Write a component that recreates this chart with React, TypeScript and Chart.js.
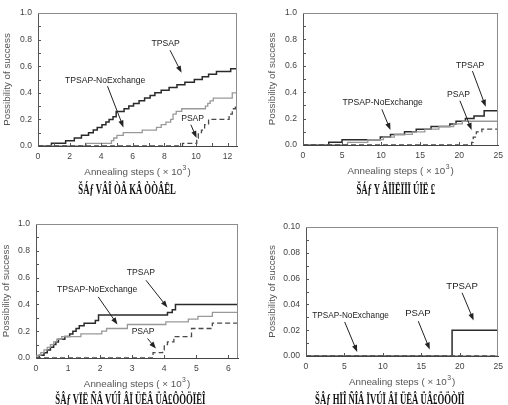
import React, { useEffect, useRef } from "react";
import { Chart, registerables } from "chart.js";
Chart.register(...registerables);

// ---------- Panel (a) ----------
const aTpsapX = [0, 0.85, 1.75, 2.3, 2.75, 3.2, 3.5, 3.75, 4.05, 4.3, 4.5, 4.75, 4.95, 5.45, 5.75, 6.05, 6.4, 6.75, 7.1, 7.4, 7.8, 8.3, 8.8, 9.3, 9.9, 10.4, 10.8, 11.3, 12.2, 12.6];
const aTpsapY = [0, 0.02, 0.04, 0.06, 0.08, 0.10, 0.12, 0.14, 0.16, 0.18, 0.20, 0.22, 0.26, 0.28, 0.30, 0.32, 0.34, 0.36, 0.38, 0.40, 0.42, 0.44, 0.46, 0.48, 0.50, 0.52, 0.54, 0.56, 0.58, 0.58];
const aNoExX = [0, 3.05, 4.65, 4.8, 5.0, 5.4, 6.6, 7.5, 7.8, 8.1, 8.4, 8.55, 8.75, 9.1, 10.6, 10.75, 10.9, 11.1, 12.3, 12.6];
const aNoExY = [0, 0.02, 0.04, 0.06, 0.08, 0.10, 0.12, 0.14, 0.16, 0.18, 0.20, 0.24, 0.26, 0.28, 0.30, 0.32, 0.34, 0.36, 0.40, 0.40];
const aPsapX = [0, 9.15, 10.05, 10.15, 10.35, 10.55, 10.8, 12.1, 12.3, 12.5, 12.6];
const aPsapY = [0, 0.02, 0.06, 0.10, 0.12, 0.16, 0.20, 0.24, 0.28, 0.30, 0.30];
const aXTicks = [0, 2, 4, 6, 8, 10, 12];
const aYTicks = [0, 0.2, 0.4, 0.6, 0.8, 1.0];

// ---------- Panel (b) ----------
const bTpsapX = [0, 3.3, 5.0, 9.9, 11.2, 13.0, 14.5, 16.4, 18.8, 19.6, 20.8, 21.9, 23.2, 25];
const bTpsapY = [0, 0.02, 0.04, 0.06, 0.08, 0.10, 0.12, 0.14, 0.16, 0.18, 0.20, 0.22, 0.26, 0.26];
const bNoExX = [0, 5.7, 8.3, 10.3, 11.7, 14.0, 15.6, 17.4, 19.3, 20.4, 25];
const bNoExY = [0, 0.02, 0.04, 0.06, 0.08, 0.10, 0.12, 0.14, 0.16, 0.18, 0.18];
const bPsapX = [0, 21.6, 21.8, 22.2, 22.9, 25];
const bPsapY = [0, 0.02, 0.06, 0.10, 0.12, 0.12];
const bXTicks = [0, 5, 10, 15, 20, 25];
const bYTicks = [0, 0.2, 0.4, 0.6, 0.8, 1.0];

// ---------- Panel (c) ----------
const cTpsapX = [0, 0.1, 0.25, 0.35, 0.45, 0.55, 0.62, 0.7, 0.9, 1.05, 1.15, 1.25, 1.35, 1.5, 1.85, 1.95, 4.1, 4.25, 4.35, 6.3];
const cTpsapY = [0, 0.02, 0.04, 0.06, 0.08, 0.10, 0.12, 0.14, 0.16, 0.18, 0.20, 0.22, 0.24, 0.26, 0.28, 0.32, 0.34, 0.36, 0.40, 0.40];
const cNoExX = [0, 0.03, 0.15, 0.25, 0.35, 0.45, 0.55, 0.65, 0.8, 1.4, 2.05, 2.2, 2.85, 4.05, 4.75, 5.05, 5.5, 6.3];
const cNoExY = [0, 0.02, 0.04, 0.06, 0.08, 0.10, 0.12, 0.14, 0.16, 0.18, 0.20, 0.22, 0.25, 0.27, 0.29, 0.31, 0.34, 0.34];
const cPsapX = [0, 3.65, 3.95, 4.0, 4.1, 4.3, 4.85, 5.5, 6.3];
const cPsapY = [0, 0.04, 0.06, 0.10, 0.12, 0.16, 0.22, 0.26, 0.26];
const cXTicks = [0, 1, 2, 3, 4, 5, 6];
const cYTicks = [0, 0.2, 0.4, 0.6, 0.8, 1.0];

// ---------- Panel (d) ----------
const dTpsapX = [0, 19.0, 25];
const dTpsapY = [0, 0.02, 0.02];
const dNoExX = [0, 25];
const dNoExY = [0, 0];
const dPsapX = [0, 25];
const dPsapY = [0, 0];
const dXTicks = [0, 5, 10, 15, 20, 25];
const dYTicks = [0, 0.02, 0.04, 0.06, 0.08, 0.1];

// annotations: [text, textX, textY, arrowFromX, arrowFromY, arrowToX, arrowToY, fontSize]
const aNotes: [string, number, number, number, number, number, number, number][] = [
  ["TPSAP", 8.08, 0.77, 8.36, 0.72, 9.09, 0.55, 8.6],
  ["TPSAP-NoExchange", 4.25, 0.49, 4.4, 0.45, 5.41, 0.14, 8.6],
  ["PSAP", 9.79, 0.205, 9.68, 0.16, 10.04, 0.06, 8.6],
];
const bNotes: [string, number, number, number, number, number, number, number][] = [
  ["TPSAP", 21.4, 0.605, 21.7, 0.56, 23.4, 0.29, 8.6],
  ["PSAP", 19.9, 0.385, 20.1, 0.335, 21.6, 0.113, 8.6],
  ["TPSAP-NoExchange", 10.2, 0.32, 10.1, 0.27, 11.2, 0.113, 8.6],
];
const cNotes: [string, number, number, number, number, number, number, number][] = [
  ["TPSAP", 3.27, 0.64, 3.43, 0.58, 4.1, 0.377, 8.6],
  ["TPSAP-NoExchange", 1.91, 0.51, 1.94, 0.456, 2.54, 0.25, 8.6],
  ["PSAP", 3.34, 0.2, 3.48, 0.145, 3.74, 0.07, 8.6],
];
const dNotes: [string, number, number, number, number, number, number, number][] = [
  ["TPSAP", 20.3, 0.0543, 20.3, 0.049, 21.8, 0.0276, 9.6],
  ["PSAP", 14.56, 0.0328, 14.6, 0.027, 16.1, 0.005, 9.6],
  ["TPSAP-NoExchange", 5.8, 0.031, 5.03, 0.0264, 6.66, 0.0031, 8.2],
];

const captions = [
  "ŠÁƒ VÂÎ ÒÂ KÂ ÒÒÂËL",
  "ŠÁƒ Y ÂÏÏ­ËÏÏÏ ÚÏË £",
  "ŠÂƒ VÏË ÑÂ VÚÎ ÂÏ ÜËÂ ÜÂ£ÔÒÖÏËÎ",
  "ŠÂƒ HÏÎ ÑÎÂ ÏVÚÏ ÂÏ ÜËÂ ÜÂ£ÖÖÒÏÎ",
];

const FONT = '"Liberation Sans", Arial, Helvetica, sans-serif';

type Panel = {
  left: number; top: number; w: number; h: number;
  aL: number; aR: number; aT: number; aB: number;
  xMax: number; yMax: number; xTicks: number[]; yTicks: number[];
  xMinor: number; yMinor: number; yDec: number; yTitleOff: number;
  tpsap: [number[], number[]]; noex: [number[], number[]]; psap: [number[], number[]];
  notes: [string, number, number, number, number, number, number, number][];
};

const panels: Panel[] = [
  { left: 0, top: 0, w: 254, h: 200, aL: 38, aR: 237, aT: 13, aB: 146, xMax: 12.6, yMax: 1, xTicks: aXTicks, yTicks: aYTicks, xMinor: 1, yMinor: 0.1, yDec: 1, yTitleOff: 31, tpsap: [aTpsapX, aTpsapY], noex: [aNoExX, aNoExY], psap: [aPsapX, aPsapY], notes: aNotes },
  { left: 254, top: 0, w: 254, h: 200, aL: 49, aR: 246, aT: 13, aB: 145, xMax: 25, yMax: 1, xTicks: bXTicks, yTicks: bYTicks, xMinor: 5, yMinor: 0.1, yDec: 1, yTitleOff: 31, tpsap: [bTpsapX, bTpsapY], noex: [bNoExX, bNoExY], psap: [bPsapX, bPsapY], notes: bNotes },
  { left: 0, top: 200, w: 254, h: 205, aL: 36, aR: 238, aT: 24, aB: 158, xMax: 6.3, yMax: 1, xTicks: cXTicks, yTicks: cYTicks, xMinor: 1, yMinor: 0.1, yDec: 1, yTitleOff: 30, tpsap: [cTpsapX, cTpsapY], noex: [cNoExX, cNoExY], psap: [cPsapX, cPsapY], notes: cNotes },
  { left: 254, top: 200, w: 254, h: 205, aL: 52, aR: 246, aT: 27, aB: 156, xMax: 25, yMax: 0.1, xTicks: dXTicks, yTicks: dYTicks, xMinor: 5, yMinor: 0.01, yDec: 2, yTitleOff: 34, tpsap: [dTpsapX, dTpsapY], noex: [dNoExX, dNoExY], psap: [dPsapX, dPsapY], notes: dNotes },
];

const decor = {
  id: "decor",
  afterDatasetsDraw(chart: any, _args: any, opts: any) {
    const p: Panel = opts.panel;
    const { ctx, chartArea: a, scales } = chart;
    const x = scales.x, y = scales.y;
    ctx.save();
    // top & right frame
    ctx.strokeStyle = "#8c8c8c";
    ctx.lineWidth = 1;
    ctx.beginPath();
    ctx.moveTo(a.left, Math.round(a.top) + 0.5);
    ctx.lineTo(a.right, Math.round(a.top) + 0.5);
    ctx.moveTo(Math.round(a.right) - 0.5, a.top);
    ctx.lineTo(Math.round(a.right) - 0.5, a.bottom);
    ctx.stroke();
    // inward tick marks
    ctx.strokeStyle = "#555";
    ctx.beginPath();
    const ny = Math.round(p.yMax / p.yMinor);
    for (let i = 1; i < ny; i++) {
      const py = Math.round(y.getPixelForValue(i * p.yMinor)) + 0.5;
      ctx.moveTo(a.left, py);
      ctx.lineTo(a.left + 3, py);
    }
    const nx = Math.floor(p.xMax / p.xMinor + 1e-9);
    for (let i = 1; i <= nx; i++) {
      const px = Math.round(x.getPixelForValue(i * p.xMinor)) + 0.5;
      if (px > a.right - 2) continue;
      ctx.moveTo(px, a.bottom);
      ctx.lineTo(px, a.bottom - 3);
    }
    ctx.stroke();
    // annotations
    for (const n of p.notes) {
      const [t, tx, ty, fx, fy, ex, ey, fs] = n;
      ctx.fillStyle = "#222";
      ctx.font = `${fs}px ${FONT}`;
      ctx.textAlign = "center";
      ctx.textBaseline = "middle";
      ctx.fillText(t, x.getPixelForValue(tx), y.getPixelForValue(ty));
      const x1 = x.getPixelForValue(fx), y1 = y.getPixelForValue(fy);
      const x2 = x.getPixelForValue(ex), y2 = y.getPixelForValue(ey);
      const ang = Math.atan2(y2 - y1, x2 - x1);
      const L = 7, W = 2.6;
      ctx.strokeStyle = "#222";
      ctx.lineWidth = 1;
      ctx.beginPath();
      ctx.moveTo(x1, y1);
      ctx.lineTo(x2 - Math.cos(ang) * L * 0.8, y2 - Math.sin(ang) * L * 0.8);
      ctx.stroke();
      ctx.beginPath();
      ctx.moveTo(x2, y2);
      ctx.lineTo(x2 - Math.cos(ang) * L - Math.sin(ang) * W, y2 - Math.sin(ang) * L + Math.cos(ang) * W);
      ctx.lineTo(x2 - Math.cos(ang) * L + Math.sin(ang) * W, y2 - Math.sin(ang) * L - Math.cos(ang) * W);
      ctx.closePath();
      ctx.fillStyle = "#222";
      ctx.fill();
    }
    // axis titles
    ctx.fillStyle = "#555";
    const tf = `9.8px ${FONT}`;
    const sf = `6.8px ${FONT}`;
    ctx.font = tf;
    const main = "Annealing steps ( \u00d7 10";
    const close = ")";
    const w1 = ctx.measureText(main).width;
    const w3 = ctx.measureText(close).width;
    ctx.font = sf;
    const w2 = ctx.measureText("3").width + 1.5;
    const tot = w1 + w2 + w3;
    const cx = (a.left + a.right) / 2;
    const ty0 = a.bottom + 26;
    ctx.textAlign = "left";
    ctx.textBaseline = "middle";
    ctx.font = tf;
    ctx.fillText(main, cx - tot / 2, ty0);
    ctx.font = sf;
    ctx.fillText("3", cx - tot / 2 + w1 + 0.5, ty0 - 4);
    ctx.font = tf;
    ctx.fillText(close, cx - tot / 2 + w1 + w2, ty0);
    ctx.save();
    ctx.translate(a.left - p.yTitleOff, (a.top + a.bottom) / 2);
    ctx.rotate(-Math.PI / 2);
    ctx.textAlign = "center";
    ctx.fillText("Possibility of success", 0, 0);
    ctx.restore();
    ctx.restore();
  },
};

function PanelChart({ p }: { p: Panel }) {
  const ref = useRef<HTMLCanvasElement>(null);
  useEffect(() => {
    const mk = (xs: number[], ys: number[]) => xs.map((v, i) => ({ x: v, y: ys[i] }));
    const chart = new Chart(ref.current as HTMLCanvasElement, {
      type: "line",
      data: {
        datasets: [
          { label: "PSAP", data: mk(p.psap[0], p.psap[1]), borderColor: "#4a4a4a", borderWidth: 1.3, borderDash: [5, 3], stepped: true, pointRadius: 0, fill: false },
          { label: "TPSAP-NoExchange", data: mk(p.noex[0], p.noex[1]), borderColor: "#999", borderWidth: 1.3, stepped: true, pointRadius: 0, fill: false },
          { label: "TPSAP", data: mk(p.tpsap[0], p.tpsap[1]), borderColor: "#2a2a2a", borderWidth: 1.5, stepped: true, pointRadius: 0, fill: false },
        ],
      },
      options: {
        animation: false,
        responsive: false,
        devicePixelRatio: 1,
        layout: { padding: { left: 0, top: p.aT, right: p.w - p.aR, bottom: 0 } },
        plugins: { legend: { display: false }, tooltip: { enabled: false }, decor: { panel: p } } as any,
        scales: {
          x: {
            type: "linear",
            min: 0,
            max: p.xMax,
            grid: { display: false, drawTicks: false },
            border: { display: true, color: "#444", width: 1 },
            afterBuildTicks: (s: any) => { s.ticks = p.xTicks.map((v) => ({ value: v })); },
            afterFit: (s: any) => { s.height = p.h - p.aB; },
            ticks: { color: "#444", font: { size: 8.6, family: FONT }, padding: 5, autoSkip: false, maxRotation: 0, includeBounds: false, callback: (v: any) => String(v) },
          },
          y: {
            type: "linear",
            min: 0,
            max: p.yMax,
            grid: { display: false, drawTicks: false },
            border: { display: true, color: "#555", width: 1 },
            afterBuildTicks: (s: any) => { s.ticks = p.yTicks.map((v) => ({ value: v })); },
            afterFit: (s: any) => { s.width = p.aL; },
            ticks: { color: "#444", font: { size: 8.6, family: FONT }, padding: 6, autoSkip: false, callback: (v: any) => Number(v).toFixed(p.yDec) },
          },
        },
      },
      plugins: [decor],
    } as any);
    return () => chart.destroy();
  }, [p]);
  return (
    <canvas ref={ref} width={p.w} height={p.h} style={{ position: "absolute", left: p.left, top: p.top, width: p.w, height: p.h }} />
  );
}

const capPos = [
  { cx: 127, top: 181 },
  { cx: 396, top: 181 },
  { cx: 121, top: 391 },
  { cx: 381, top: 391 },
];

export default function App() {
  return (
    <div style={{ position: "absolute", left: 0, top: 0, width: 508, height: 405, background: "#fff", overflow: "hidden" }}>
      {panels.map((p, i) => <PanelChart key={i} p={p} />)}
      {captions.map((c, i) => (
        <div key={"c" + i} style={{ position: "absolute", left: capPos[i].cx - 120, top: capPos[i].top, width: 240, textAlign: "center", fontFamily: '"Liberation Serif", "DejaVu Serif", serif', fontWeight: "bold", fontSize: 15, lineHeight: "17px", color: "#111", whiteSpace: "nowrap" }}>
          <span style={{ display: "inline-block", transform: "scaleX(0.58)" }}>{c}</span>
        </div>
      ))}
    </div>
  );
}
